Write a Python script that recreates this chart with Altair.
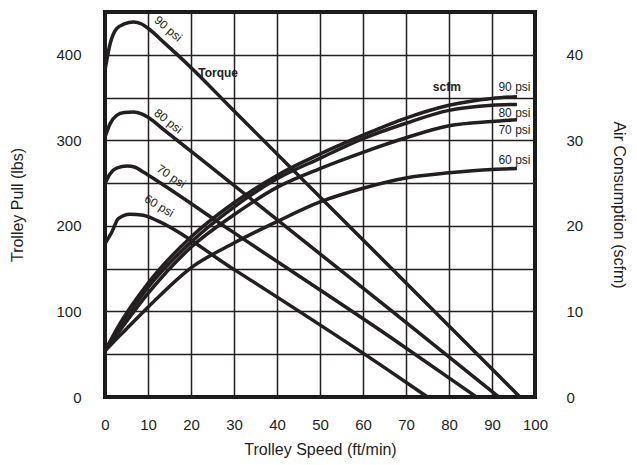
import altair as alt
import pandas as pd

# ---- Torque curves (Trolley Pull, lbs) ----
torque_series = ["90 psi", "80 psi", "70 psi", "60 psi"]
torque_speed = {
    "90 psi": [0, 1.2, 2.7, 4.5, 6.6, 8.5, 10, 14, 19.8, 29.1, 66.3, 96.5],
    "80 psi": [0, 1.2, 2.7, 4.5, 6.6, 8.5, 10, 14, 29.1, 66.3, 91.6],
    "70 psi": [0, 1.2, 2.7, 5.2, 7.0, 8.9, 12, 29.1, 66.3, 86.4],
    "60 psi": [0, 1.6, 3.1, 5.8, 8.9, 12.0, 29.1, 66.3, 75.0],
}
torque_pull = {
    "90 psi": [381.8, 413, 430.5, 436, 438.2, 436, 431, 413, 386, 339, 152, 0],
    "80 psi": [303.9, 319.5, 329.2, 332.5, 333.1, 331, 327, 311, 251, 102, 0],
    "70 psi": [249.4, 261, 267.6, 270, 268.5, 263, 253, 195, 70.2, 0],
    "60 psi": [179.3, 192.9, 208.5, 213.6, 212.4, 206.5, 152, 30, 0],
}

# ---- Air consumption curves (scfm) ----
scfm_speed = [0, 3.5, 10, 20, 30, 40, 50, 60, 70, 80, 90, 95.8]
scfm_values = {
    "90 psi": [5.4, 8.6, 13.3, 18.7, 22.7, 25.9, 28.4, 30.6, 32.6, 34.1, 34.9, 35.1],
    "80 psi": [5.4, 8.2, 12.8, 18.1, 22.2, 25.5, 27.9, 30.2, 32.0, 33.5, 34.1, 34.2],
    "70 psi": [5.4, 7.8, 12.1, 17.5, 21.3, 24.5, 26.7, 28.6, 30.3, 31.7, 32.2, 32.4],
    "60 psi": [5.4, 7.2, 10.5, 15.1, 18.0, 20.5, 22.8, 24.4, 25.6, 26.2, 26.6, 26.7],
}

# ---- Annotations ----
torque_label_text = ["90 psi", "80 psi", "70 psi", "60 psi"]
torque_label_x = [14.7, 14.7, 15.4, 12.6]
torque_label_y = [430.5, 322.5, 258.0, 223.5]
torque_label_angle = [41, 38, 34, 31]
torque_word_x = [26.3]
torque_word_y = [379]

scfm_label_text = ["90 psi", "80 psi", "70 psi", "60 psi"]
scfm_label_x = [91.5, 91.5, 91.5, 91.5]
scfm_label_y = [36.2, 33.2, 31.25, 27.7]
scfm_word_x = [79.5]
scfm_word_y = [36.2]

x_ticks = list(range(0, 101, 10))
y_grid = list(range(0, 451, 50))
y2_ticks = [0, 10, 20, 30, 40]

INK = "#231f20"
FONT = "Liberation Sans"

rows = []
for s in torque_series:
    for x, y in zip(torque_speed[s], torque_pull[s]):
        rows.append({"series": s, "speed": x, "pull": y})
torque_df = pd.DataFrame(rows)

rows = []
for s, vals in scfm_values.items():
    for x, y in zip(scfm_speed, vals):
        rows.append({"series": s, "speed": x, "scfm": y})
scfm_df = pd.DataFrame(rows)

tl_df = pd.DataFrame({"text": torque_label_text, "speed": torque_label_x,
                      "pull": torque_label_y, "angle": torque_label_angle})
tw_df = pd.DataFrame({"text": ["Torque"], "speed": torque_word_x, "pull": torque_word_y})
sl_df = pd.DataFrame({"text": scfm_label_text, "speed": scfm_label_x, "scfm": scfm_label_y})
sw_df = pd.DataFrame({"text": ["scfm"], "speed": scfm_word_x, "scfm": scfm_word_y})

xscale = alt.Scale(domain=[0, 100], nice=False, zero=False)
yscale = alt.Scale(domain=[0, 450], nice=False)
y2scale = alt.Scale(domain=[0, 45], nice=False)

x_axis = alt.Axis(
    values=x_ticks, grid=True, gridColor=INK, gridWidth=1.5, gridOpacity=1,
    domain=False, ticks=False, labelPadding=20, labelFontSize=15, labelColor=INK,
    labelFont=FONT, labelFlush=False,
    title="Trolley Speed (ft/min)", titleFontSize=16,
    titleFontWeight="normal", titleColor=INK, titleFont=FONT, titlePadding=9,
)
y_axis = alt.Axis(
    values=y_grid, grid=True, gridColor=INK, gridWidth=1.5, gridOpacity=1,
    domain=False, ticks=False, labelPadding=24, labelFontSize=15, labelColor=INK,
    labelFont=FONT, labelFlush=False,
    labelExpr="datum.value % 100 == 0 ? datum.label : ''",
    title="Trolley Pull (lbs)", titleFontSize=16, titleFontWeight="normal",
    titleColor=INK, titleFont=FONT, titlePadding=30,
)
y2_axis = alt.Axis(
    orient="right", values=y2_ticks, grid=False, domain=False, ticks=False,
    labelPadding=31, labelFontSize=15, labelColor=INK, labelFont=FONT,
    labelFlush=False,
    title="Air Consumption (scfm)", titleFontSize=16, titleFontWeight="normal",
    titleColor=INK, titleFont=FONT, titlePadding=28,
)

X = alt.X("speed:Q", scale=xscale, axis=x_axis)
Y = alt.Y("pull:Q", scale=yscale, axis=y_axis)
Y2 = alt.Y("scfm:Q", scale=y2scale, axis=y2_axis)

torque_lines = alt.Chart(torque_df).mark_line(
    interpolate="monotone", color=INK, strokeWidth=3.5
).encode(x=X, y=Y, detail="series:N")

torque_labels = alt.Chart(tl_df).mark_text(
    fontSize=12, font=FONT, color=INK, baseline="middle"
).encode(x=X, y=Y, angle=alt.Angle("angle:Q", scale=None), text="text:N")

torque_word = alt.Chart(tw_df).mark_text(
    fontSize=12, font=FONT, color=INK, fontWeight="bold", baseline="middle"
).encode(x=X, y=Y, text="text:N")

scfm_lines = alt.Chart(scfm_df).mark_line(
    interpolate="monotone", color=INK, strokeWidth=3.5
).encode(x=X, y=Y2, detail="series:N")

scfm_labels = alt.Chart(sl_df).mark_text(
    fontSize=12, font=FONT, color=INK, align="left", baseline="middle"
).encode(x=X, y=Y2, text="text:N")

scfm_word = alt.Chart(sw_df).mark_text(
    fontSize=12, font=FONT, color=INK, fontWeight="bold", baseline="middle"
).encode(x=X, y=Y2, text="text:N")

left = alt.layer(torque_lines, torque_labels, torque_word)
right = alt.layer(scfm_lines, scfm_labels, scfm_word)

chart = alt.layer(left, right).resolve_scale(y="independent").properties(
    width=430, height=385,
    autosize=alt.AutoSizeParams(type="none"),
    padding={"left": 97, "top": 4, "right": 94, "bottom": 66},
    background="white",
).configure_view(
    stroke="#1a1a1a", strokeWidth=4
)

chart.save("out.html", embed_options={"renderer": "svg", "actions": False})
